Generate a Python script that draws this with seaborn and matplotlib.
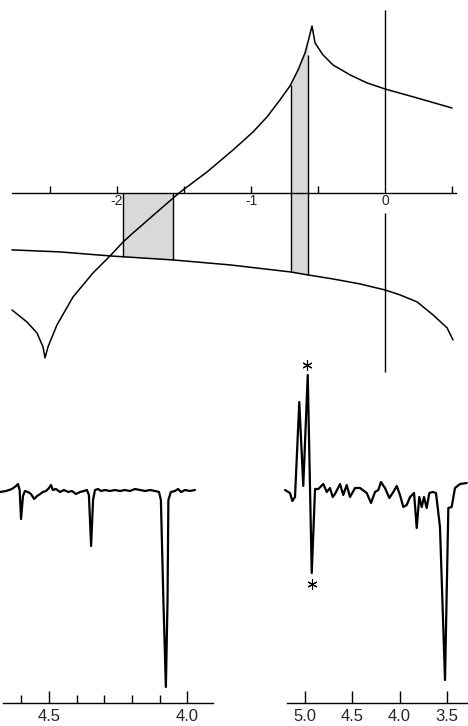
import numpy as np
import pandas as pd
import seaborn as sns
import matplotlib.pyplot as plt

# ---- top panel: two curves (x in the units of the labelled axis) ----
curve_a_x = [-2.784, -2.672, -2.597, -2.552, -2.537,
             -2.515, -2.448, -2.328, -2.179, -2.052, -1.955, -1.881, -1.701, -1.537,
             -1.328, -1.134, -0.985, -0.881, -0.784, -0.709, -0.649, -0.597, -0.575, -0.545,
             -0.522, -0.463, -0.388, -0.261, -0.134, 0.0, 0.239, 0.500]
curve_a_y = [-0.873, -0.963, -1.045, -1.149, -1.231,
             -1.149, -0.985, -0.776, -0.597, -0.470, -0.366, -0.299, -0.142, 0.0,
             0.157, 0.321, 0.455, 0.567, 0.694, 0.799, 0.918, 1.045, 1.127, 1.246,
             1.119, 1.030, 0.955, 0.881, 0.821, 0.776, 0.709, 0.634]

curve_b_x = [-2.784, -2.425, -2.052, -1.582, -1.157, -0.701, -0.575, -0.388, -0.187,
             0.0, 0.112, 0.239, 0.358, 0.463, 0.507]
curve_b_y = [-0.425, -0.440, -0.470, -0.500, -0.537, -0.590, -0.612, -0.642, -0.679,
             -0.724, -0.761, -0.813, -0.910, -1.007, -1.097]

band1 = (-1.955, -1.582)   # shaded between axis and lower curve
band2 = (-0.705, -0.575)   # shaded between the two curves
band2_right_top = 1.03

top_ticks = [-2.5, -2.0, -1.5, -1.0, -0.5, 0.0, 0.5]
top_labels = ['', '-2', '', '-1', '', '0', '']

# ---- bottom left spectrum (ppm) ----
left_ppm = [4.677, 4.655, 4.634, 4.619, 4.612, 4.606, 4.601, 4.594, 4.587, 4.576, 4.565,
            4.554, 4.543, 4.532, 4.522, 4.511, 4.500, 4.493, 4.486, 4.475, 4.460, 4.446,
            4.431, 4.417, 4.403, 4.388, 4.374, 4.363, 4.356, 4.348, 4.341, 4.334, 4.323,
            4.312, 4.298, 4.280, 4.262, 4.244, 4.226, 4.208, 4.190, 4.171, 4.153, 4.135,
            4.117, 4.103, 4.096, 4.087, 4.078, 4.072, 4.069, 4.060, 4.045, 4.034, 4.023,
            4.009, 3.991, 3.973]
left_int = [-1, 0, 2, 5, 7, 1, -28, -5, 0, -1, -3,
            -8, -5, -3, -1, 0, 3, 6, 1, 2, -1, 1,
            -1, 0, -3, -1, 0, 1, -4, -55, -9, 1, 2,
            0, 1, 0, 1, 0, 1, 0, 2, 1, 0, 1,
            0, -1, -9, -109, -196, -109, -9, -1, 0, 2, -1,
            1, 0, 1]
left_major = [4.5, 4.0]
left_minor = [4.6, 4.4, 4.3, 4.2, 4.1]

# ---- bottom right spectrum (ppm) ----
right_ppm = [5.205, 5.153, 5.128, 5.100, 5.055, 5.013, 4.966, 4.924, 4.889, 4.855, 4.802,
             4.766, 4.732, 4.703, 4.679, 4.626, 4.592, 4.556, 4.521, 4.468, 4.416, 4.345,
             4.300, 4.258, 4.223, 4.195, 4.153, 4.107, 4.065, 4.029, 3.995, 3.960, 3.924,
             3.889, 3.847, 3.819, 3.792, 3.766, 3.742, 3.714, 3.686, 3.651, 3.616, 3.574,
             3.521, 3.486, 3.451, 3.416, 3.363, 3.293]
right_int = [0, -3, -11, -7, 88, 4, 115, -83, 1, 1, 6,
             -2, 2, -7, -4, 6, -5, 5, -7, 2, 2, -3,
             -13, -2, 0, 8, 2, -8, -2, 4, -5, -17, -15,
             -7, -3, -38, -7, -17, -7, -18, -3, -2, -3, -37,
             -190, -18, -17, 2, 6, 7]
right_ticks = [5.0, 4.5, 4.0, 3.5]
star_ppm = [4.974, 4.921]
star_int = [125, -94]

sns.set_theme(style='white')
plt.rcParams['font.family'] = ['Liberation Sans', 'DejaVu Sans']

W, H = 468, 726
fig = plt.figure(figsize=(W / 100, H / 100), dpi=100, facecolor='white')

def px_axes(x0, y0, x1, y1):
    return fig.add_axes([x0 / W, 1 - y1 / H, (x1 - x0) / W, (y1 - y0) / H])

# ---------------- top panel ----------------
ax = px_axes(0, 0, 468, 380)
ax.set_facecolor('none')
ax.set_xlim(-2.873, 0.619)
ax.set_ylim(-1.396, 1.440)

ca = pd.DataFrame({'x': curve_a_x, 'y': curve_a_y})
cb = pd.DataFrame({'x': curve_b_x, 'y': curve_b_y})
sns.lineplot(data=ca, x='x', y='y', sort=False, estimator=None, color='black', lw=1.1, ax=ax, zorder=3)
sns.lineplot(data=cb, x='x', y='y', sort=False, estimator=None, color='black', lw=1.1, ax=ax, zorder=3)

# rising branch of curve A (between the two cusps) for interpolation
i0 = int(np.argmin(curve_a_y))
i1 = int(np.argmax(curve_a_y))
rise_x = np.array(curve_a_x[i0:i1 + 1])
rise_y = np.array(curve_a_y[i0:i1 + 1])

xs = np.linspace(band1[0], band1[1], 60)
ax.fill_between(xs, 0, np.interp(xs, curve_b_x, curve_b_y), color='#d9d9d9', lw=0, zorder=1)
for xv in band1:
    ax.vlines(xv, np.interp(xv, curve_b_x, curve_b_y), 0, color='black', lw=1.0, zorder=2)

xs = np.linspace(band2[0], band2[1], 60)
ax.fill_between(xs, np.interp(xs, rise_x, rise_y), np.interp(xs, curve_b_x, curve_b_y),
                color='#d9d9d9', lw=0, zorder=1)
ax.vlines(band2[0], np.interp(band2[0], curve_b_x, curve_b_y), np.interp(band2[0], rise_x, rise_y),
          color='black', lw=1.0, zorder=2)
ax.vlines(band2[1], np.interp(band2[1], curve_b_x, curve_b_y), band2_right_top,
          color='black', lw=1.0, zorder=2)

# vertical line through zero, broken around the label
ax.vlines(0, 0.052, 1.366, color='black', lw=1.0)
ax.vlines(0, -1.336, -0.149, color='black', lw=1.0)

for s in ['top', 'right', 'left']:
    ax.spines[s].set_visible(False)
ax.spines['bottom'].set_position(('data', 0))
ax.spines['bottom'].set_bounds(-2.78, 0.53)
ax.spines['bottom'].set_color('black')
ax.spines['bottom'].set_linewidth(1.0)
ax.set_yticks([])
ax.set_xticks(top_ticks)
ax.set_xticklabels(top_labels)
ax.tick_params(axis='x', direction='in', length=5, width=1.0, color='black',
               labelsize=10, pad=1, bottom=True)
ax.set_xlabel('')
ax.set_ylabel('')

# ---------------- bottom left spectrum ----------------
axl = px_axes(0, 400, 234, 703)
axl.set_facecolor('none')
sns.lineplot(x=left_ppm, y=left_int, sort=False, estimator=None, color='black', lw=1.6, ax=axl)
axl.set_xlim(4.677, 3.832)
axl.set_ylim(-212, 91)
for s in ['top', 'right', 'left']:
    axl.spines[s].set_visible(False)
axl.spines['bottom'].set_bounds(4.666, 3.908)
axl.spines['bottom'].set_color('black')
axl.spines['bottom'].set_linewidth(1.0)
axl.set_yticks([])
axl.set_xticks(left_major)
axl.set_xticklabels([f'{v:.1f}' for v in left_major])
axl.set_xticks(left_minor, minor=True)
axl.tick_params(axis='x', which='major', direction='in', length=8.5, width=1.0,
                color='black', labelsize=12, pad=4.5, bottom=True)
axl.tick_params(axis='x', which='minor', direction='in', length=5.5, width=1.0,
                color='black', bottom=True)

# ---------------- bottom right spectrum ----------------
axr = px_axes(280, 350, 468, 703)
axr.set_facecolor('none')
sns.lineplot(x=right_ppm, y=right_int, sort=False, estimator=None, color='black', lw=1.6, ax=axr)
axr.scatter(star_ppm, star_int, marker=(6, 2, 0), s=45, color='black', lw=0.8)
axr.set_xlim(5.258, 3.279)
axr.set_ylim(-213, 140)
for s in ['top', 'right', 'left']:
    axr.spines[s].set_visible(False)
axr.spines['bottom'].set_bounds(5.184, 3.279)
axr.spines['bottom'].set_color('black')
axr.spines['bottom'].set_linewidth(1.0)
axr.set_yticks([])
axr.set_xticks(right_ticks)
axr.set_xticklabels([f'{v:.1f}' for v in right_ticks])
axr.tick_params(axis='x', which='major', direction='in', length=8.5, width=1.0,
                color='black', labelsize=12, pad=4.5, bottom=True)

for a in (ax, axl, axr):
    a.set_xlabel('')
    a.set_ylabel('')
    a.grid(False)

fig.savefig('out.png', dpi=100, facecolor='white')
plt.close(fig)
